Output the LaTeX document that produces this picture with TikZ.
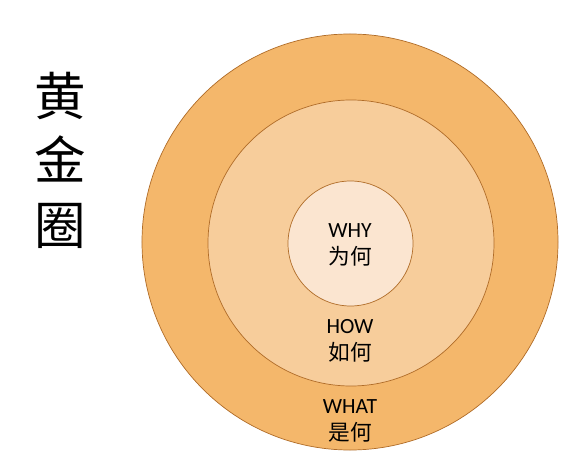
\documentclass[tikz,border=0pt]{standalone}
\usepackage{fontspec}
\setmainfont{Carlito}
\newfontfamily\cjk{Noto Sans CJK SC}
\usepackage{tikz}
\usepackage{xcolor}
\definecolor{cOuter}{RGB}{244,183,107}
\definecolor{cMiddle}{RGB}{247,205,155}
\definecolor{cInner}{RGB}{251,229,208}
\definecolor{cEdge}{RGB}{176,108,40}

\begin{document}
\begin{tikzpicture}[
    x=0.03cm, y=-0.03cm,
    ring/.style={circle,draw=cEdge,line width=0.6pt,inner sep=0pt},
    label/.style={align=center,font=\fontsize{18.5}{22.5}\selectfont,inner sep=1pt},
    title/.style={align=center,font=\cjk\fontsize{44}{55}\selectfont,inner sep=0pt}
  ]
  \useasboundingbox (0,0) rectangle (587,456);
  % Circles
  \node[ring,fill=cOuter,minimum size=12.48cm]  (outer)  at (350,242) {};
  \node[ring,fill=cMiddle,minimum size=8.58cm]  (middle) at (351,243) {};
  \node[ring,fill=cInner,minimum size=3.75cm]   (inner)  at (350.5,243.5) {};
  % Labels
  \node[label] (why)  at (350,245) {WHY\\{\cjk 为何}};
  \node[label] (how)  at (350,341) {HOW\\{\cjk 如何}};
  \node[label] (what) at (350,421) {WHAT\\{\cjk 是何}};
  % Title
  \node[title] (gold) at (60,160) {黄\\金\\圈};
\end{tikzpicture}
\end{document}
